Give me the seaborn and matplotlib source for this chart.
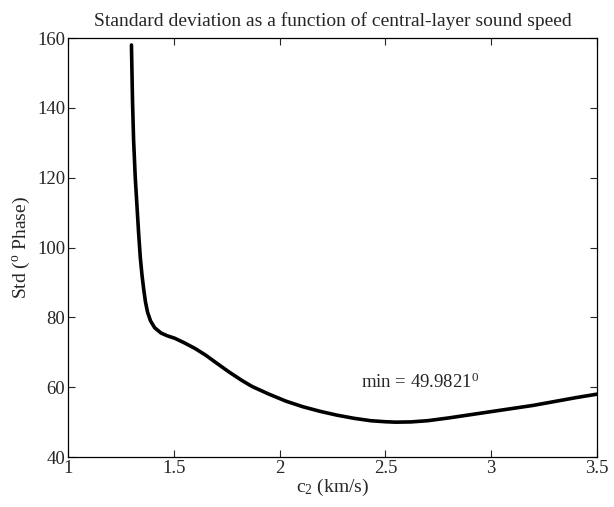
import numpy as np
import pandas as pd
import seaborn as sns
import matplotlib.pyplot as plt

# values
c2 = [1.30, 1.305, 1.31, 1.318, 1.326, 1.334, 1.342, 1.35, 1.358, 1.366,
      1.376, 1.39, 1.41, 1.44, 1.47, 1.505, 1.55, 1.60, 1.65, 1.70,
      1.76, 1.82, 1.87, 1.95, 2.03, 2.11, 2.19, 2.27, 2.35, 2.43,
      2.50, 2.55, 2.62, 2.70, 2.80, 2.90, 3.00, 3.10, 3.20, 3.30,
      3.40, 3.50]
std = [158, 142, 131, 120, 112, 104, 97, 92, 88, 84.5,
       81.5, 79, 77, 75.5, 74.7, 74, 72.7, 71.1, 69.2, 67,
       64.4, 62, 60.2, 58, 56, 54.4, 53.1, 52, 51.1, 50.4,
       50.1, 49.98, 50.05, 50.4, 51.2, 52.1, 53.0, 53.9, 54.8, 55.9,
       57.0, 58.0]
xticks = [1, 1.5, 2, 2.5, 3, 3.5]
xtick_labels = ['1', '1.5', '2', '2.5', '3', '3.5']
yticks = [40, 60, 80, 100, 120, 140, 160]

df = pd.DataFrame({'c2': c2, 'std': std})

sns.set_style('ticks')
plt.rcParams['font.family'] = ['Liberation Serif', 'DejaVu Serif']
plt.rcParams['mathtext.fontset'] = 'custom'
plt.rcParams['mathtext.rm'] = 'Liberation Serif'
plt.rcParams['mathtext.it'] = 'Liberation Serif:italic'

fig = plt.figure(figsize=(6.14, 5.07), dpi=100)
ax = fig.add_axes([0.1107, 0.0986, 0.8616, 0.8264])

sns.lineplot(data=df, x='c2', y='std', color='black', linewidth=2.6, ax=ax, sort=False)

ax.set_xlim(1, 3.5)
ax.set_ylim(40, 160)
ax.set_xticks(xticks)
ax.set_xticklabels(xtick_labels)
ax.set_yticks(yticks)
ax.tick_params(direction='in', top=True, right=True, labelsize=13.5, length=5, width=0.8, pad=2)
for s in ax.spines.values():
    s.set_linewidth(0.9)
    s.set_color('black')

ax.set_xlabel('c$_2$ (km/s)', fontsize=14, labelpad=0)
ax.set_ylabel('Std ($^\\mathrm{o}$ Phase)', fontsize=14, labelpad=4)
ax.set_title('Standard deviation as a function of central-layer sound speed', fontsize=14, pad=9)

ax.text(2.387, 59.8, 'min = 49.9821$^0$', fontsize=13.5)

fig.savefig('out.png', dpi=100)
